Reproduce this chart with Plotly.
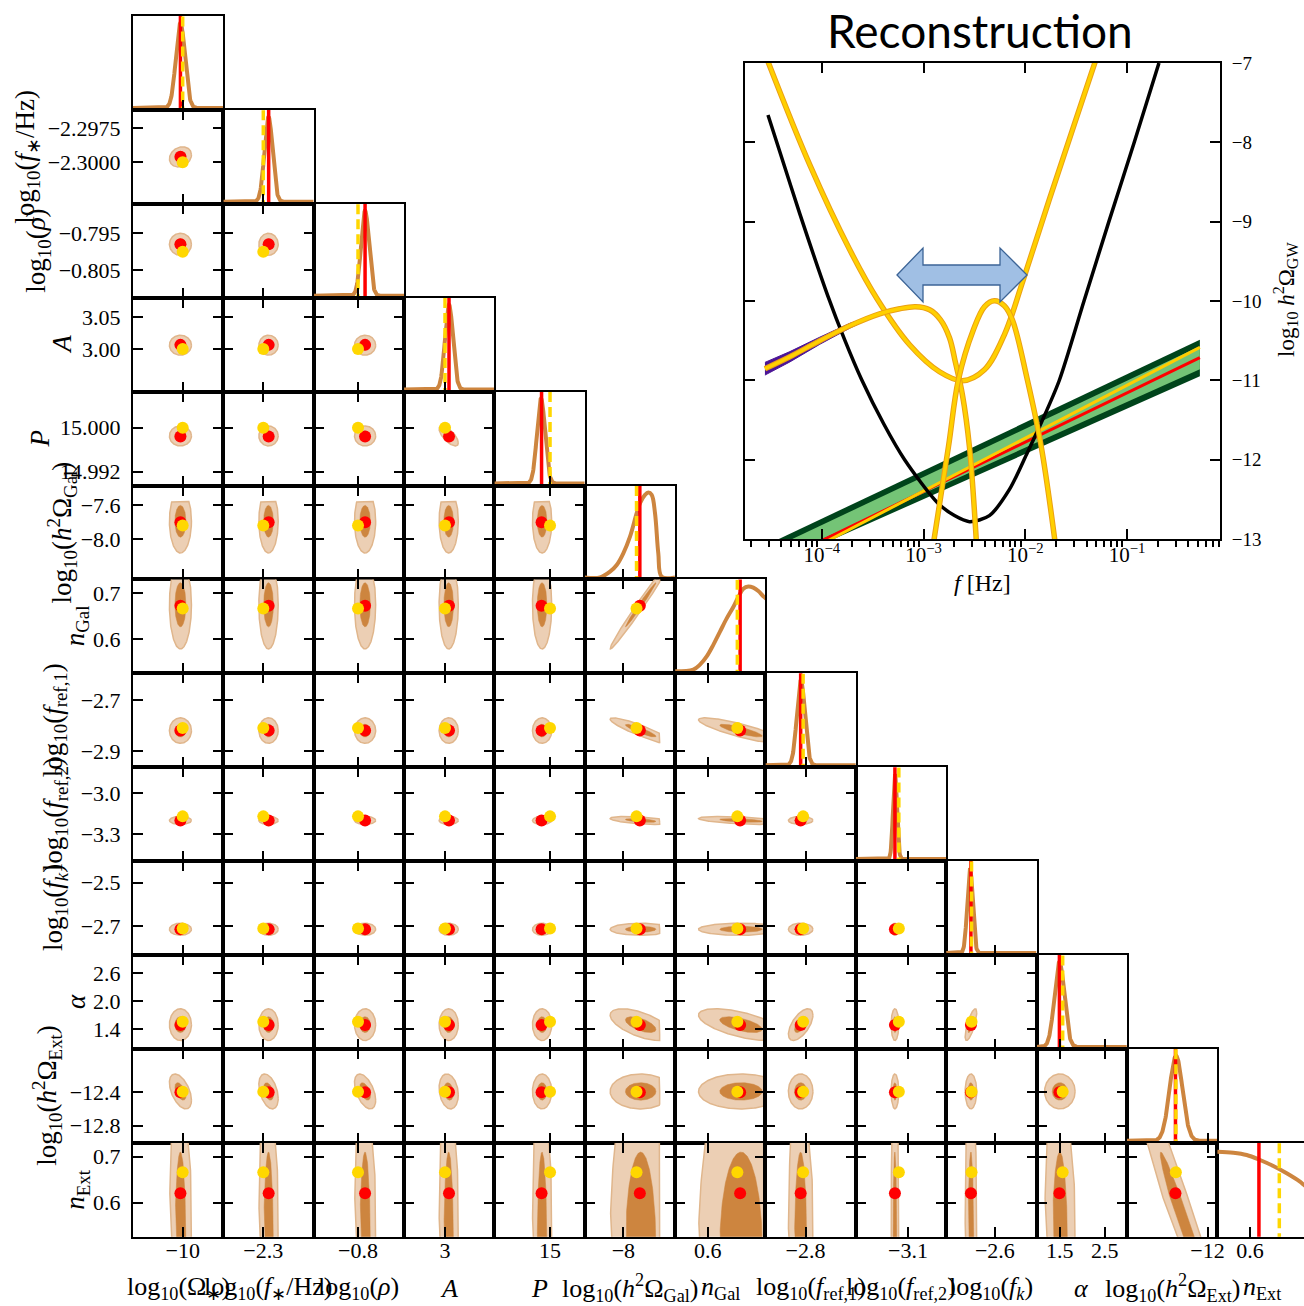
import numpy as np
import plotly.graph_objects as go

W, H = 1304, 1306
X0, CW = 133.0, 90.35     # corner grid: left edge, cell width (px)
Y0, CH = 16.0, 93.9       # corner grid: top edge, cell height (px)

# ---------------- corner plot data ----------------
param_labels = [
    "log<sub>10</sub>(Ω<sub>∗</sub>)",
    "log<sub>10</sub>(<i>f</i><sub>∗</sub>/Hz)",
    "log<sub>10</sub>(<i>ρ</i>)",
    "<i>A</i>",
    "<i>P</i>",
    "log<sub>10</sub>(<i>h</i><sup>2</sup>Ω<sub>Gal</sub>)",
    "<i>n</i><sub>Gal</sub>",
    "log<sub>10</sub>(<i>f</i><sub>ref,1</sub>)",
    "log<sub>10</sub>(<i>f</i><sub>ref,2</sub>)",
    "log<sub>10</sub>(<i>f<sub>k</sub></i>)",
    "<i>α</i>",
    "log<sub>10</sub>(<i>h</i><sup>2</sup>Ω<sub>Ext</sub>)",
    "<i>n</i><sub>Ext</sub>",
]
range_lo = [-10.11, -2.30305, -0.81255, 2.9335, 14.98949, -8.4676, 0.5261, -2.9635, -3.4997, -2.8339, 0.98, -13.007, 0.5261]
range_hi = [-9.91, -2.29615, -0.78696, 3.0802, 15.00656, -7.3726, 0.7302, -2.5953, -2.8076, -2.4002, 2.992, -11.879, 0.7302]

red_vals = [-10.005, -2.29959, -0.7980, 3.0065, 14.9984, -7.800, 0.673, -2.820, -3.200, -2.715, 1.490, -12.400, 0.6204]
yellow_vals = [-10.0, -2.3, -0.8, 3.0, 15.0, -7.840, 0.6667, -2.810, -3.170, -2.712, 1.563, -12.395, 0.6664]

mean_2d = [-10.005, -2.2996, -0.798, 3.006, 14.9985, -7.79, 0.675, -2.82, -3.2, -2.715, 1.50, -12.39, 0.50]
sigma_2d = [0.0122, 0.00037, 0.0015, 0.0078, 0.00091, 0.185, 0.048, 0.025, 0.0147, 0.0139, 0.17, 0.105, 0.21]
upper_bound = [None, None, None, None, None, -7.56, None, None, None, None, None, None, None]

mean_1d = [-10.005, -2.2996, -0.798, 3.0065, 14.9983, None, None, -2.819, -3.199, -2.7194, 1.49, -12.393, None]
sigma_1d = [0.010, 0.00031, 0.00113, 0.0065, 0.00076, None, None, 0.0163, 0.0153, 0.013, 0.111, 0.081, None]

# explicit (non-Gaussian) 1D marginals
gal_x = [-8.4676, -8.2828, -8.1616, -8.0804, -8.0004, -7.9192, -7.8380, -7.7980, -7.7374, -7.6974, -7.6562, -7.6162, -7.5762, -7.5350, -7.3738]
gal_y = [0.0, 0.0, 0.067, 0.146, 0.284, 0.481, 0.757, 0.875, 0.973, 1.0, 0.973, 0.757, 0.284, 0.008, 0.0]
ngal_x = [0.5261, 0.5672, 0.5823, 0.5975, 0.6124, 0.6275, 0.6427, 0.6576, 0.6689, 0.6802, 0.6915, 0.7028, 0.7141, 0.7254, 0.7315]
ngal_y = [0.0, 0.02, 0.078, 0.175, 0.311, 0.467, 0.623, 0.758, 0.875, 0.973, 1.0, 0.985, 0.945, 0.883, 0.856]
next_x = [0.5263, 0.5625, 0.5927, 0.6228, 0.6528, 0.6831, 0.7131, 0.7222, 0.7302]
next_y = [0.978, 0.966, 0.939, 0.880, 0.809, 0.723, 0.624, 0.585, 0.555]
explicit_1d = {5: (gal_x, gal_y), 6: (ngal_x, ngal_y), 12: (next_x, next_y)}

# correlations of the 2D panels (row, col, rho)
corr_rows = [1, 4, 6, 7, 7, 8, 8, 10, 10, 10, 10, 11, 11, 11, 11]
corr_cols = [0, 3, 5, 5, 6, 5, 6, 5, 6, 7, 9, 0, 1, 2, 3]
corr_rho = [0.2, -0.7, 0.99, -0.9, -0.85, -0.5, -0.5, -0.6, -0.6, 0.6, 0.75, -0.5, -0.4, -0.5, -0.2]
# panel with its own ellipse (row, col, mean_x, mean_y, sigma_x, sigma_y, rho)
override_panel = (12, 11, -12.196, 0.50, 0.394, 0.21, -0.979)

ytick_vals = [[], [-2.2975, -2.3000], [-0.795, -0.805], [3.05, 3.00], [15.000, 14.992], [-7.6, -8.0],
              [0.7, 0.6], [-2.7, -2.9], [-3.0, -3.3], [-2.5, -2.7], [2.6, 2.0, 1.4], [-12.4, -12.8], [0.7, 0.6]]
ytick_text = [[], ["−2.2975", "−2.3000"], ["−0.795", "−0.805"], ["3.05", "3.00"], ["15.000", "14.992"],
              ["−7.6", "−8.0"], ["0.7", "0.6"], ["−2.7", "−2.9"], ["−3.0", "−3.3"], ["−2.5", "−2.7"],
              ["2.6", "2.0", "1.4"], ["−12.4", "−12.8"], ["0.7", "0.6"]]
xtick_vals = [[-10], [-2.3], [-0.8], [3], [15], [-8], [0.6], [-2.8], [-3.1], [-2.6], [1.5, 2.5], [-12], [0.6]]
xtick_text = [["−10"], ["−2.3"], ["−0.8"], ["3"], ["15"], ["−8"], ["0.6"], ["−2.8"], ["−3.1"], ["−2.6"],
              ["1.5", "2.5"], ["−12"], ["0.6"]]

# y-label horizontal positions (px) per row
ylab_x = [None, 27, 38, 62, 40, 62, 77, 55, 55, 55, 76, 47, 77]

# ---------------- inset (reconstruction) data: log10 f [Hz], log10 h^2 Omega ----------------
black_lf = [-4.529, -4.412, -4.216, -3.941, -3.775, -3.608, -3.392, -3.186, -2.863, -2.696, -2.549, -2.353, -2.157, -1.980, -1.843, -1.667, -1.422, -1.176, -0.931, -0.686]
black_lo = [-7.655, -8.121, -8.902, -9.935, -10.489, -10.992, -11.547, -12.000, -12.542, -12.705, -12.781, -12.705, -12.378, -11.912, -11.534, -11.005, -9.997, -8.990, -8.008, -7.0]
pls_lf = [-4.539, -4.118, -3.725, -3.451, -3.137, -2.843, -2.618, -2.402, -2.206, -2.020, -1.765, -1.520, -1.304]
pls_lo = [-6.95, -8.285, -9.355, -9.985, -10.552, -10.892, -11.005, -10.867, -10.426, -9.733, -8.726, -7.781, -6.95]
gal_lf = [-4.559, -4.314, -4.020, -3.725, -3.431, -3.235, -3.078, -2.941, -2.833, -2.745, -2.686, -2.618, -2.549, -2.480]
gal_lo = [-10.854, -10.703, -10.501, -10.312, -10.161, -10.098, -10.073, -10.111, -10.237, -10.463, -10.778, -11.181, -11.836, -13.05]
gal_band_half = [0.08, 0.065, 0.045, 0.03, 0.0, 0.0, 0.0, 0.0, 0.0, 0.0, 0.0, 0.0, 0.0, 0.0]
bump_lf = [-2.902, -2.755, -2.657, -2.510, -2.402, -2.304, -2.206, -2.127, -1.980, -1.843, -1.706]
bump_lo = [-13.05, -11.836, -10.992, -10.363, -10.073, -9.997, -10.060, -10.237, -10.992, -11.836, -13.05]
ext_lf = [-4.9, -0.284]
ext_outer_hi = [-13.29, -10.49]
ext_outer_lo = [-13.58, -10.95]
ext_inner_hi = [-13.37, -10.57]
ext_inner_lo = [-13.52, -10.86]
ext_pivot_lf = -3.0

# ---------------- styling ----------------
DARK = "rgb(205,133,63)"
LIGHT = "rgb(236,207,180)"
LIGHT_EDGE = "rgb(224,182,140)"
RED = "rgb(255,0,0)"
GOLD = "rgb(255,215,0)"
SERIF = "Liberation Serif"

fig = go.Figure()
layout = {}
annotations = []

tt = np.linspace(0, 2 * np.pi, 241)


def ellipse(mx, my, sx, sy, rho, kk):
    x = mx + kk * sx * np.cos(tt)
    y = my + kk * sy * (rho * np.cos(tt) + np.sqrt(1 - rho ** 2) * np.sin(tt))
    return x, y


def get_rho(i, j):
    for r, c, v in zip(corr_rows, corr_cols, corr_rho):
        if r == i and c == j:
            return v
    return 0.0


base_axis = dict(showgrid=False, zeroline=False, showline=True, linecolor="black", linewidth=2,
                 ticks="inside", ticklen=10, tickwidth=2, tickcolor="black", tickmode="array",
                 automargin=False, tickfont=dict(family=SERIF, size=22, color="black"))

k = 0
for i in range(13):
    for j in range(i + 1):
        k += 1
        xa = "x" if k == 1 else f"x{k}"
        ya = "y" if k == 1 else f"y{k}"
        xl = X0 + j * CW
        xr = xl + CW
        yt = Y0 + i * CH
        yb = yt + CH
        diag = i == j
        lo_j, hi_j = range_lo[j], range_hi[j]
        xr_c = min(xr, W)
        hi_eff = lo_j + (xr_c - xl) / CW * (hi_j - lo_j)
        xaxis = dict(base_axis, domain=[xl / W, xr_c / W], range=[lo_j, hi_eff], anchor=ya,
                     mirror=True if diag else "ticks", tickvals=xtick_vals[j], ticktext=xtick_text[j],
                     showticklabels=(i == 12), ticklabelstandoff=-7)
        if diag:
            yaxis = dict(base_axis, domain=[1 - yb / H, 1 - yt / H], range=[-0.0236, 1.0825], anchor=xa,
                         ticks="", showticklabels=False, mirror=(xr <= W), tickvals=[])
        else:
            yaxis = dict(base_axis, domain=[1 - yb / H, 1 - yt / H], range=[range_lo[i], range_hi[i]],
                         anchor=xa, mirror="ticks", tickvals=ytick_vals[i], ticktext=ytick_text[i],
                         showticklabels=(j == 0), ticklabelstandoff=6)
        layout["xaxis" if k == 1 else f"xaxis{k}"] = xaxis
        layout["yaxis" if k == 1 else f"yaxis{k}"] = yaxis

        if diag:
            if j in explicit_1d:
                cx, cy = explicit_1d[j]
                fig.add_trace(go.Scatter(x=cx, y=cy, mode="lines", line=dict(color=DARK, width=4, shape="spline"),
                                         xaxis=xa, yaxis=ya, hoverinfo="skip", showlegend=False))
            else:
                xs = np.linspace(lo_j, hi_j, 300)
                ys = np.exp(-0.5 * ((xs - mean_1d[j]) / sigma_1d[j]) ** 2)
                fig.add_trace(go.Scatter(x=xs, y=ys, mode="lines", line=dict(color=DARK, width=4),
                                         xaxis=xa, yaxis=ya, hoverinfo="skip", showlegend=False))
            fig.add_trace(go.Scatter(x=[red_vals[j]] * 2, y=[-0.1, 1.2], mode="lines",
                                     line=dict(color=RED, width=3.5), xaxis=xa, yaxis=ya,
                                     hoverinfo="skip", showlegend=False))
            fig.add_trace(go.Scatter(x=[yellow_vals[j]] * 2, y=[-0.1, 1.2], mode="lines",
                                     line=dict(color=GOLD, width=3.5, dash="10px,5px"), xaxis=xa, yaxis=ya,
                                     hoverinfo="skip", showlegend=False))
        else:
            if (i, j) == (override_panel[0], override_panel[1]):
                mx, my, sx, sy, rho = override_panel[2:]
            else:
                mx, my, sx, sy, rho = mean_2d[j], mean_2d[i], sigma_2d[j], sigma_2d[i], get_rho(i, j)
            for kk, fc, lc, lw in [(2, LIGHT, LIGHT_EDGE, 1.5), (1, DARK, DARK, 0.5)]:
                ex, ey = ellipse(mx, my, sx, sy, rho, kk)
                if upper_bound[j] is not None:
                    ex = np.minimum(ex, upper_bound[j])
                if upper_bound[i] is not None:
                    ey = np.minimum(ey, upper_bound[i])
                fig.add_trace(go.Scatter(x=ex, y=ey, mode="lines", fill="toself", fillcolor=fc,
                                         line=dict(color=lc, width=lw), xaxis=xa, yaxis=ya,
                                         hoverinfo="skip", showlegend=False))
            fig.add_trace(go.Scatter(x=[red_vals[j]], y=[red_vals[i]], mode="markers",
                                     marker=dict(color=RED, size=12), xaxis=xa, yaxis=ya,
                                     hoverinfo="skip", showlegend=False))
            fig.add_trace(go.Scatter(x=[yellow_vals[j]], y=[yellow_vals[i]], mode="markers",
                                     marker=dict(color=GOLD, size=12), xaxis=xa, yaxis=ya,
                                     hoverinfo="skip", showlegend=False))

# axis labels of the corner plot
for i in range(1, 13):
    annotations.append(dict(x=ylab_x[i] / W, y=1 - (Y0 + (i + 0.5) * CH) / H, xref="paper", yref="paper",
                            text=param_labels[i], textangle=-90, showarrow=False, xanchor="center",
                            yanchor="middle", font=dict(family=SERIF, size=27, color="black")))
for j in range(13):
    annotations.append(dict(x=(X0 + (j + 0.5) * CW) / W, y=1 - 1288 / H, xref="paper", yref="paper",
                            text=param_labels[j], showarrow=False, xanchor="center", yanchor="middle",
                            font=dict(family=SERIF, size=26, color="black")))

# ---------------- inset ----------------
k += 1
xa, ya = f"x{k}", f"y{k}"
ka = k
IX0, IX1, IY0, IY1 = 745, 1220, 63, 539
INSET_RANGE = [-4.755, -0.086]
major_vals = [1e-4, 1e-3, 1e-2, 1e-1]
minor_vals = [m * 10.0 ** d for d in range(-5, 0) for m in range(2, 10)]
minor_vals = [v for v in minor_vals if 10 ** INSET_RANGE[0] < v < 10 ** INSET_RANGE[1]]
layout[f"xaxis{ka}"] = dict(type="log", domain=[IX0 / W, IX1 / W], range=INSET_RANGE, anchor=ya,
                            showgrid=False, zeroline=False, showline=True, linecolor="black", linewidth=2,
                            mirror=True, ticks="inside", ticklen=10, tickwidth=2, tickcolor="black",
                            automargin=False, tickmode="array", tickvals=major_vals,
                            ticktext=["10<sup>−4</sup>", "10<sup>−3</sup>", "10<sup>−2</sup>", "10<sup>−1</sup>"],
                            tickfont=dict(family=SERIF, size=21, color="black"), ticklabelstandoff=-4,
                            minor=dict(tickmode="array", tickvals=minor_vals, ticks="outside", ticklen=6,
                                       tickwidth=1.5, tickcolor="black", showgrid=False))
layout[f"yaxis{ka}"] = dict(domain=[1 - IY1 / H, 1 - IY0 / H], range=[-13, -7], anchor=xa, side="right",
                            showgrid=False, zeroline=False, showline=True, linecolor="black", linewidth=2,
                            mirror="ticks", ticks="inside", ticklen=10, tickwidth=2, tickcolor="black",
                            automargin=False, tickmode="array", tickvals=[-7, -8, -9, -10, -11, -12, -13],
                            ticktext=["−7", "−8", "−9", "−10", "−11", "−12", "−13"],
                            tickfont=dict(family=SERIF, size=19, color="black"), ticklabelstandoff=6)
# top axis of the inset carrying only the major ticks
kt = ka + 1
layout[f"xaxis{kt}"] = dict(type="log", domain=[IX0 / W, IX1 / W], range=INSET_RANGE, anchor=ya,
                            overlaying=xa, side="top", showgrid=False, zeroline=False, showline=False,
                            ticks="inside", ticklen=10, tickwidth=2, tickcolor="black", automargin=False,
                            tickmode="array", tickvals=major_vals, showticklabels=False)
fig.add_trace(go.Scatter(x=[], y=[], xaxis=f"x{kt}", yaxis=ya, mode="lines", showlegend=False,
                         hoverinfo="skip"))


def fx(lf):
    return [10.0 ** v for v in lf]


def add_inset(x, y, **kw):
    fig.add_trace(go.Scatter(x=x, y=y, xaxis=xa, yaxis=ya, hoverinfo="skip", showlegend=False, **kw))


# green posterior band of the external power law
add_inset(fx(ext_lf + ext_lf[::-1]), ext_outer_hi + ext_outer_lo[::-1], mode="lines", fill="toself",
          fillcolor="rgb(0,68,27)", line=dict(width=0))
add_inset(fx(ext_lf + ext_lf[::-1]), ext_inner_hi + ext_inner_lo[::-1], mode="lines", fill="toself",
          fillcolor="rgb(116,196,118)", line=dict(width=0))
lf_line = np.linspace(ext_lf[0], ext_lf[1], 50)
add_inset(fx(lf_line), red_vals[11] + red_vals[12] * (lf_line - ext_pivot_lf), mode="lines",
          line=dict(color=RED, width=3))
add_inset(fx(lf_line), yellow_vals[11] + yellow_vals[12] * (lf_line - ext_pivot_lf), mode="lines",
          line=dict(color="rgb(255,204,0)", width=3))
# galactic band (purple)
g_hi = [a + b for a, b in zip(gal_lo, gal_band_half)]
g_lo = [a - b for a, b in zip(gal_lo, gal_band_half)]
add_inset(fx(gal_lf[:6] + gal_lf[:6][::-1]), g_hi[:6] + g_lo[:6][::-1], mode="lines", fill="toself",
          fillcolor="rgb(75,20,150)", line=dict(color="rgb(75,20,150)", width=1))
# black sensitivity curve
add_inset(fx(black_lf), black_lo, mode="lines", line=dict(color="black", width=3.5, shape="spline", smoothing=0.8))
# yellow curves
for lfv, lov in [(pls_lf, pls_lo), (gal_lf, gal_lo), (bump_lf, bump_lo)]:
    add_inset(fx(lfv), lov, mode="lines", line=dict(color="rgb(235,160,20)", width=5.5, shape="spline"))
    add_inset(fx(lfv), lov, mode="lines", line=dict(color="rgb(255,208,0)", width=3.5, shape="spline"))

# inset labels
annotations.append(dict(x=980 / W, y=1 - 30 / H, xref="paper", yref="paper", text="Reconstruction",
                        showarrow=False, xanchor="center", yanchor="middle",
                        font=dict(family="Lato", size=46, color="black")))
annotations.append(dict(x=982 / W, y=1 - 583 / H, xref="paper", yref="paper", text="<i>f</i> [Hz]",
                        showarrow=False, xanchor="center", yanchor="middle",
                        font=dict(family=SERIF, size=24, color="black")))
annotations.append(dict(x=1285 / W, y=1 - 300 / H, xref="paper", yref="paper",
                        text="log<sub>10</sub> <i>h</i><sup>2</sup>Ω<sub>GW</sub>", textangle=-90,
                        showarrow=False, xanchor="center", yanchor="middle",
                        font=dict(family=SERIF, size=23, color="black")))

# double-headed arrow (decoration)
arrow_px = [(897, 275), (923, 248), (923, 265), (1000, 265), (1000, 248), (1027, 275), (1000, 302),
            (1000, 285), (923, 285), (923, 302)]
path = "M " + " L ".join(f"{x / W:.5f},{1 - y / H:.5f}" for x, y in arrow_px) + " Z"
shapes = [dict(type="path", path=path, xref="paper", yref="paper", fillcolor="rgb(160,191,228)",
               line=dict(color="rgb(60,100,150)", width=1.3), layer="above")]

layout.update(dict(template="none", width=W, height=H, autosize=False,
                   margin=dict(l=0, r=0, t=0, b=0, pad=0, autoexpand=False), paper_bgcolor="white",
                   plot_bgcolor="rgba(0,0,0,0)", showlegend=False, annotations=annotations, shapes=shapes))
fig.update_layout(layout)

fig.write_html("out.html", config={"displayModeBar": False},
               post_script="document.body.style.margin='0';document.body.style.overflow='hidden';")
